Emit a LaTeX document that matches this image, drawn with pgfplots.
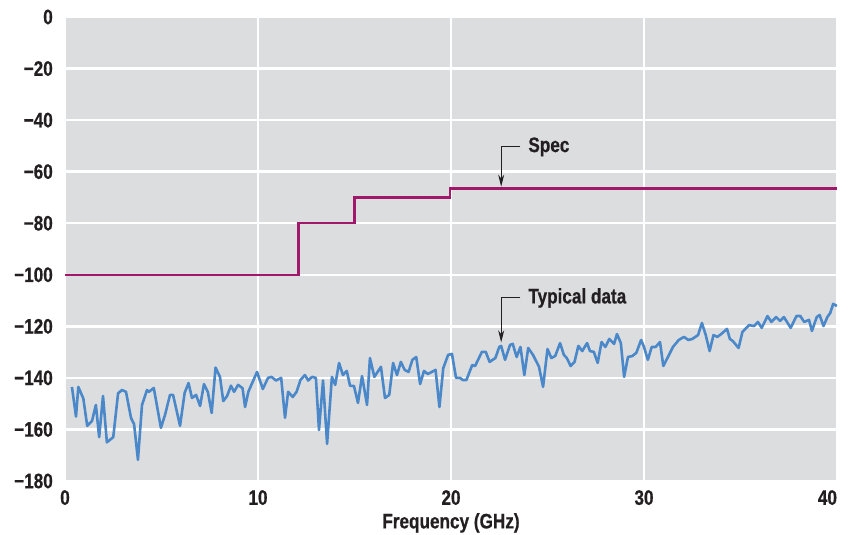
\documentclass[border=0pt]{standalone}
\usepackage{fontspec}
\setmainfont{Liberation Sans}[FakeStretch=0.82, BoldFeatures={FakeBold=0.6}]
\usepackage{pgfplots}
\pgfplotsset{compat=1.18}
\usetikzlibrary{arrows.meta}
\definecolor{bggray}{RGB}{220,221,223}
\definecolor{datablue}{RGB}{74,136,201}
\definecolor{specmag}{RGB}{161,23,107}
\definecolor{txt}{RGB}{35,31,32}
\begin{document}
\begin{tikzpicture}
\begin{axis}[
  name=ax,
  scale only axis,
  width=772bp, height=464bp,
  xmin=0, xmax=40, ymin=-180, ymax=0,
  axis line style={draw=none},
  axis background/.style={fill=bggray},
  major tick length=0pt,
  xtick={0,10,20,30,40},
  xticklabels={0,10,20,30,\llap{40}},
  ytick={-180,-160,-140,-120,-100,-80,-60,-40,-20,0},
  yticklabels={−180,−160,−140,−120,−100,−80,−60,−40,−20,0},
  grid=major,
  major grid style={white, line width=2.5bp},
  tick label style={font=\fontsize{21}{23}\selectfont\bfseries, text=txt},
  yticklabel style={anchor=east, inner sep=0pt, xshift=-12bp},
  xticklabel style={anchor=north, inner sep=0pt, yshift=-9bp},
  xlabel={Frequency (GHz)},
  xlabel style={font=\fontsize{21}{23}\selectfont\bfseries, text=txt, at={(axis description cs:0.5,0)}, anchor=north, inner sep=0pt, yshift=-32bp},
]
\addplot[specmag, line width=2.2bp, sharp plot] coordinates {
(0,-100) (12.1,-100) (12.1,-80) (15,-80) (15,-70) (19.95,-70) (19.95,-66.5) (40,-66.5)
};
\addplot[datablue, line width=2.6bp, line join=round] coordinates {
(0.36,-143.5) (0.57,-155) (0.69,-143.5) (0.95,-148) (1.15,-158.6) (1.4,-156.7) (1.6,-150.5) (1.77,-163) (1.97,-147) (2.17,-165)
(2.5,-163) (2.75,-146) (2.95,-144.7) (3.16,-145.4) (3.42,-155.5) (3.58,-158) (3.78,-171.8) (3.99,-150.5) (4.25,-144.7) (4.35,-145.4)
(4.6,-143.9) (4.97,-159.4) (5.18,-154.4) (5.44,-146.6) (5.6,-146.6) (5.96,-158.6) (6.2,-145.8) (6.4,-142) (6.58,-147.8) (6.79,-146.6)
(7.0,-150.9) (7.2,-142.4) (7.4,-145.4) (7.6,-153.6) (7.8,-136) (8.03,-139.6) (8.2,-149) (8.4,-147) (8.6,-143) (8.76,-145.4)
(8.97,-142.7) (9.2,-144) (9.33,-151.3) (9.5,-145.4) (9.95,-137.7) (10.25,-144.3) (10.52,-140) (10.7,-139.6) (10.93,-141) (11.2,-140)
(11.4,-155.5) (11.56,-145.4) (11.8,-147.4) (12.0,-145.4) (12.2,-140.8) (12.43,-138.9) (12.6,-141) (12.8,-139.6) (13.0,-140) (13.16,-160.2)
(13.37,-141) (13.58,-165.6) (13.83,-139.6) (14.0,-142.7) (14.2,-134.2) (14.4,-138.9) (14.6,-137.3) (14.77,-143.1) (14.97,-143.1) (15.18,-149.7)
(15.39,-139.3) (15.65,-150.5) (15.8,-132.3) (16.03,-139.6) (16.37,-135.7) (16.58,-147.8) (16.8,-146.6) (17.0,-134.2) (17.2,-138.9) (17.4,-133.8)
(17.6,-136.9) (17.8,-137.7) (18.0,-133) (18.2,-131.9) (18.4,-142.4) (18.6,-137.3) (18.8,-138.5) (19.0,-137.7) (19.2,-136.9) (19.4,-151.3)
(19.6,-136.2) (19.85,-131.1) (20.05,-130.7) (20.26,-140) (20.47,-140) (20.6,-140.8) (20.8,-140.8) (21.1,-135) (21.25,-135.4) (21.6,-129.9)
(21.8,-129.9) (22.0,-133.8) (22.3,-132.3) (22.5,-128) (22.6,-127.6) (22.8,-133) (23.06,-127.2) (23.2,-126.8) (23.4,-131.9) (23.6,-128)
(23.8,-138.9) (24.0,-128.4) (24.25,-131.1) (24.56,-135.7) (24.77,-143.5) (25.0,-128.8) (25.2,-132.3) (25.4,-131.5) (25.65,-126.5) (25.85,-131.1)
(26.0,-132.3) (26.2,-135.4) (26.4,-133.8) (26.6,-127.6) (26.8,-129.6) (27.05,-126.5) (27.2,-129.6) (27.4,-129.9) (27.6,-134.2) (27.8,-126.1)
(28.0,-128) (28.2,-124.9) (28.45,-126.8) (28.6,-123) (28.8,-126.5) (28.97,-139.6) (29.17,-131.9) (29.4,-131.5) (29.6,-130.3) (29.85,-125.3)
(30.0,-128) (30.2,-133) (30.4,-128) (30.6,-128) (30.83,-126.1) (31.0,-135.4) (31.24,-131.9) (31.5,-128) (31.8,-125.3) (32.07,-124.1)
(32.3,-125.3) (32.5,-124.9) (32.8,-123.4) (33.0,-118.7) (33.2,-123.4) (33.4,-129.6) (33.6,-123.4) (33.8,-124.1) (34.0,-123) (34.3,-121)
(34.45,-124.9) (34.6,-125.7) (34.9,-128.4) (35.1,-122.2) (35.3,-120.6) (35.45,-119.5) (35.7,-119.9) (35.9,-118.3) (36.1,-120.6) (36.4,-116)
(36.6,-118.3) (36.85,-116.4) (37.05,-117.9) (37.25,-116.4) (37.6,-120.6) (37.9,-116) (38.1,-116) (38.3,-118.3) (38.55,-117.5) (38.7,-121.8)
(38.95,-116.4) (39.1,-115.6) (39.3,-119.9) (39.5,-116.4) (39.65,-114.8) (39.8,-111.3) (40.0,-112.1)
};
% annotations
\draw[txt, line width=1bp, -{Stealth[length=12bp, width=6bp]}] (axis cs:23.6,-50.4) -- (axis cs:22.6,-50.4) -- (axis cs:22.6,-65.8);
\node[anchor=west, inner sep=0pt, text=txt, font=\fontsize{21}{23}\selectfont\bfseries] at (axis cs:24.0,-50.4) {Spec};
\draw[txt, line width=1bp, -{Stealth[length=12bp, width=6bp]}] (axis cs:23.6,-109) -- (axis cs:22.6,-109) -- (axis cs:22.6,-126.2);
\node[anchor=west, inner sep=0pt, text=txt, font=\fontsize{21}{23}\selectfont\bfseries] at (axis cs:24.0,-109) {Typical data};
\end{axis}
\pgfresetboundingbox
\path ([xshift=-65bp,yshift=-54bp]ax.south west) rectangle ([xshift=17bp,yshift=17bp]ax.north east);
\end{tikzpicture}
\end{document}
